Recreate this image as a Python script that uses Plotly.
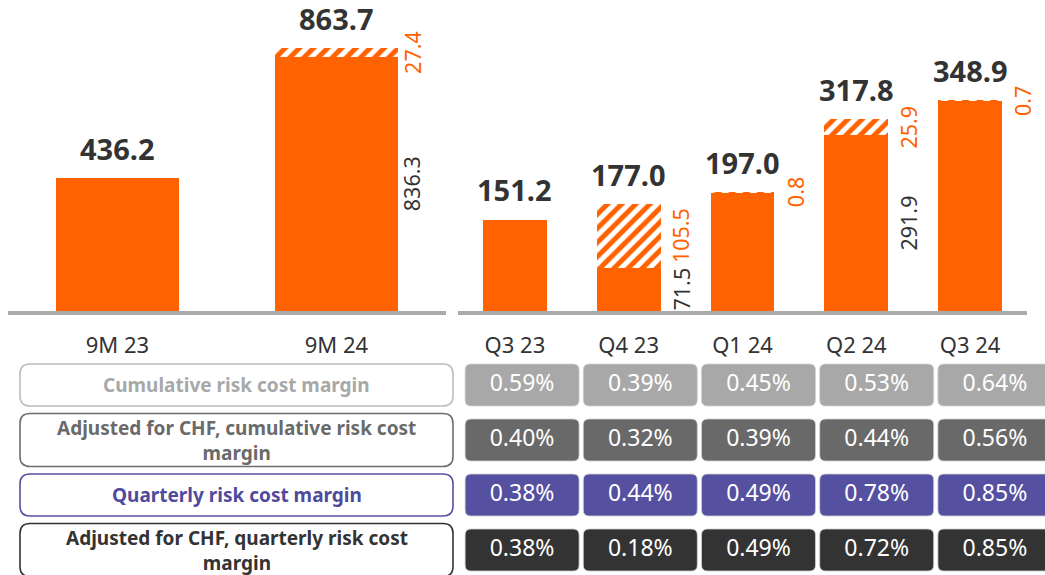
import plotly.graph_objects as go

W, H = 1045, 575

# ---------------- data ----------------
left_cats = ["9M 23", "9M 24"]
left_base = [436.2, 836.3]
left_hatch = [0.0, 27.4]
left_total = [436.2, 863.7]
left_base_shown = [False, True]

right_cats = ["Q3 23", "Q4 23", "Q1 24", "Q2 24", "Q3 24"]
right_base = [151.2, 71.5, 196.2, 291.9, 348.2]
right_hatch = [0.0, 105.5, 0.8, 25.9, 0.7]
right_total = [151.2, 177.0, 197.0, 317.8, 348.9]
right_base_shown = [False, True, False, True, False]

row_labels = [
    "Cumulative risk cost margin",
    "Adjusted for CHF, cumulative risk cost<br>margin",
    "Quarterly risk cost margin",
    "Adjusted for CHF, quarterly risk cost<br>margin",
]
cum_margin = [0.59, 0.39, 0.45, 0.53, 0.64]
cum_margin_adj = [0.40, 0.32, 0.39, 0.44, 0.56]
q_margin = [0.38, 0.44, 0.49, 0.78, 0.85]
q_margin_adj = [0.38, 0.18, 0.49, 0.72, 0.85]
table_rows = [cum_margin, cum_margin_adj, q_margin, q_margin_adj]

# ---------------- styles ----------------
FONT = "Noto Sans"
ORANGE = "#FF6200"
DARK = "#333333"
GRID = "#AAAAAA"
row_fill = ["#A8A8A8", "#696969", "#5551A0", "#333333"]
row_border = ["#BDBDBD", "#6E6E6E", "#5551A0", "#333333"]
row_text = ["#A8A8A8", "#6A6A6A", "#4F4A9C", "#333333"]
two_line = [False, True, False, True]

BARGAP = 0.44
base_px = 311          # baseline pixel row (from top)
left_dom = (8, 446)
right_dom = (458, 1027)
left_range = 1023
right_range = 515

fig = go.Figure()

pattern = dict(shape="/", fgcolor=ORANGE, bgcolor="white", size=10,
               solidity=0.5, fillmode="replace")

for cats, base, hatch, xa, ya in [
    (left_cats, left_base, left_hatch, "x", "y"),
    (right_cats, right_base, right_hatch, "x2", "y2"),
]:
    fig.add_trace(go.Bar(x=cats, y=base, xaxis=xa, yaxis=ya,
                         marker=dict(color=ORANGE, line=dict(width=0)),
                         hoverinfo="skip"))
    fig.add_trace(go.Bar(x=cats, y=hatch, xaxis=xa, yaxis=ya,
                         marker=dict(color="white", pattern=pattern,
                                     line=dict(width=0)),
                         hoverinfo="skip"))

annotations = []
for cats, base, hatch, total, shown, xa, ya, dom, gap in [
    (left_cats, left_base, left_hatch, left_total, left_base_shown, "x", "y", left_dom, -2),
    (right_cats, right_base, right_hatch, right_total, right_base_shown, "x2", "y2", right_dom, 4),
]:
    slot = (dom[1] - dom[0]) / len(cats)
    half = (1 - BARGAP) * slot / 2
    for c, b, h, t, s in zip(cats, base, hatch, total, shown):
        annotations.append(dict(x=c, y=t, xref=xa, yref=ya, text=f"<b>{t:.1f}</b>",
                                showarrow=False, yanchor="middle", yshift=30,
                                font=dict(family=FONT, size=29, color=DARK)))
        if s:
            annotations.append(dict(x=c, y=b / 2, xref=xa, yref=ya, text=f"{b:.1f}",
                                    showarrow=False, xanchor="left", yanchor="middle",
                                    xshift=half + gap, textangle=-90,
                                    font=dict(family=FONT, size=21.5, color=DARK)))
        if h > 0:
            annotations.append(dict(x=c, y=b + h / 2, xref=xa, yref=ya, text=f"{h:.1f}",
                                    showarrow=False, xanchor="left", yanchor="middle",
                                    xshift=half + gap, textangle=-90,
                                    font=dict(family=FONT, size=21.5, color=ORANGE)))

# ---------------- table ----------------
col_w = 118.2        # px per table column
row_h = 55.0         # px per table row
tab_left = 463
first_row_px = 385
tab_top = 357.5
x3_range = [-0.5, (W - tab_left) / col_w - 0.5]
y3_range = [(H - first_row_px) / row_h, -0.5]


def rrect(x0, x1, y0, y1, rx, ry):
    return (f"M {x0 + rx},{y0} L {x1 - rx},{y0} Q {x1},{y0} {x1},{y0 + ry} "
            f"L {x1},{y1 - ry} Q {x1},{y1} {x1 - rx},{y1} L {x0 + rx},{y1} "
            f"Q {x0},{y1} {x0},{y1 - ry} L {x0},{y0 + ry} Q {x0},{y0} {x0 + rx},{y0} Z")


shapes = []
# baselines
line_y = (H - (base_px + 2)) / H
for dom in (left_dom, right_dom):
    shapes.append(dict(type="line", xref="paper", yref="paper",
                       x0=dom[0] / W, x1=dom[1] / W, y0=line_y, y1=line_y,
                       line=dict(color=GRID, width=4), layer="above"))

hw = 57 / col_w
hh = 21 / row_h
for r, vals in enumerate(table_rows):
    for i in range(len(vals)):
        shapes.append(dict(type="path", xref="x3", yref="y3",
                           path=rrect(i - hw, i + hw, r - hh, r + hh, 6 / col_w, 6 / row_h),
                           fillcolor=row_fill[r], line=dict(color="#D0D0D0", width=0.8),
                           layer="below"))
    lh = (26.5 if two_line[r] else 21) / row_h
    shapes.append(dict(type="path", xref="paper", yref="y3",
                       path=rrect(20 / W, 453 / W, r - lh, r + lh, 10 / W, 10 / row_h),
                       fillcolor="white", line=dict(color=row_border[r], width=1.6),
                       layer="below"))
    annotations.append(dict(x=236.5 / W, y=r, xref="paper", yref="y3",
                            text=f"<b>{row_labels[r]}</b>", showarrow=False,
                            xanchor="center", yanchor="middle", align="center",
                            font=dict(family=FONT, size=19, color=row_text[r])))
    fig.add_trace(go.Scatter(x=list(range(len(vals))), y=[r] * len(vals),
                             xaxis="x3", yaxis="y3", mode="text",
                             text=[f"{v:.2f}%" for v in vals],
                             textfont=dict(family=FONT, size=23, color="white"),
                             hoverinfo="skip"))

y_dom_bottom = (H - base_px) / H
tick_common = dict(showgrid=False, zeroline=False, showline=False, ticks="",
                   tickfont=dict(family=FONT, size=22, color=DARK),
                   ticklabelstandoff=19, fixedrange=True)
fig.update_layout(
    width=W, height=H,
    margin=dict(l=0, r=0, t=0, b=0),
    paper_bgcolor="white", plot_bgcolor="rgba(0,0,0,0)",
    barmode="stack", bargap=BARGAP, showlegend=False,
    xaxis=dict(domain=[left_dom[0] / W, left_dom[1] / W], anchor="y",
               range=[-0.5, len(left_cats) - 0.5], **tick_common),
    yaxis=dict(domain=[y_dom_bottom, 1], range=[0, left_range], visible=False, anchor="x"),
    xaxis2=dict(domain=[right_dom[0] / W, right_dom[1] / W], anchor="y2",
                range=[-0.5, len(right_cats) - 0.5], **tick_common),
    yaxis2=dict(domain=[y_dom_bottom, 1], range=[0, right_range], visible=False, anchor="x2"),
    xaxis3=dict(domain=[tab_left / W, 1], range=x3_range, visible=False, anchor="y3"),
    yaxis3=dict(domain=[0, (H - tab_top) / H], range=y3_range, visible=False, anchor="x3"),
    shapes=shapes,
    annotations=annotations,
)

fig.write_html(
    "out.html",
    config={"displayModeBar": False, "staticPlot": True},
    post_script="document.body.style.margin='0';document.body.style.overflow='hidden';",
)
